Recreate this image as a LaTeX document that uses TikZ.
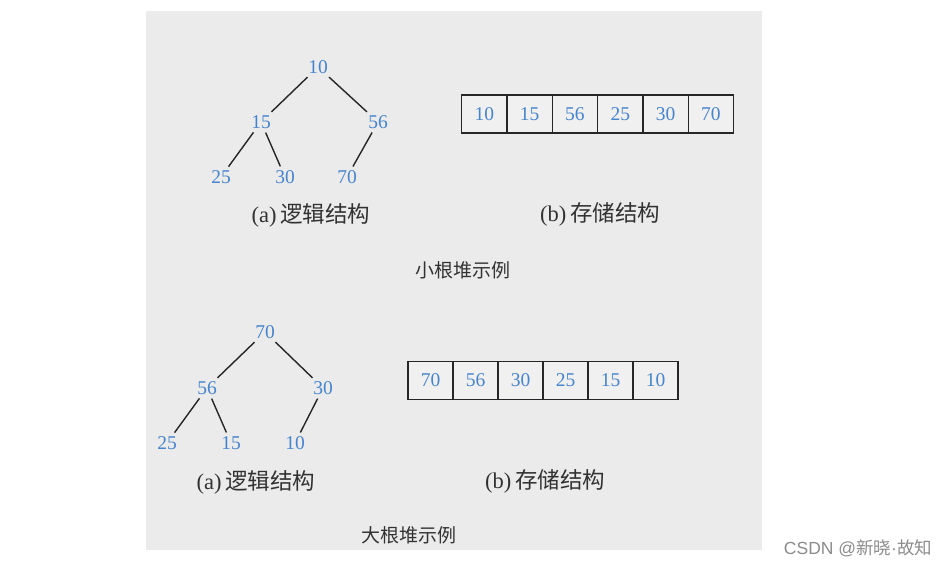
\documentclass[tikz,border=0pt]{standalone}
\usepackage{fontspec}
\setmainfont{Liberation Serif}
\newfontfamily\cjk{Noto Sans CJK SC}
\newfontfamily\wmsans{Liberation Sans}
\definecolor{numblue}{RGB}{70,132,205}
\definecolor{bggray}{RGB}{235,235,235}
\definecolor{cellgray}{RGB}{240,240,240}
\definecolor{capgray}{RGB}{50,50,50}
\definecolor{wmgray}{RGB}{140,140,140}
\begin{document}
\begin{tikzpicture}[x=1pt,y=-1pt,
  num/.style={text=numblue, font=\fontsize{19.5}{19.5}\selectfont, inner sep=2pt},
  edge/.style={draw=black!85, line width=1.4pt, shorten <=2pt, shorten >=2pt},
  cell/.style={draw=black!85, line width=1.4pt, fill=cellgray, minimum width=45.3pt,
    minimum height=38pt, inner sep=0pt, text=numblue, font=\fontsize{19.5}{19.5}\selectfont},
  capt/.style={text=capgray, font=\fontsize{22.5}{22.5}\selectfont, inner sep=0pt},
  title/.style={text=capgray, font=\cjk\fontsize{19}{19}\selectfont, inner sep=0pt}]
\useasboundingbox (0,0) rectangle (952,566);
\fill[white] (0,0) rectangle (952,566);
\fill[bggray] (146,11) rectangle (762,550);

% ---- small-root heap: tree
\node[num] (a10) at (318,67) {10};
\node[num] (a15) at (261,122) {15};
\node[num] (a56) at (378,122) {56};
\node[num] (a25) at (221,177) {25};
\node[num] (a30) at (285,177) {30};
\node[num] (a70) at (347,177) {70};
\draw[edge] (a10) -- (a15);
\draw[edge] (a10) -- (a56);
\draw[edge] (a15) -- (a25);
\draw[edge] (a15) -- (a30);
\draw[edge] (a56) -- (a70);
\node[capt] (capA1) at (311,215) {(a)\,{\cjk 逻辑结构}};

% ---- small-root heap: array
\foreach \v [count=\i from 0] in {10,15,56,25,30,70}
  \node[cell] (ca\i) at ({461.7+45.3*(\i+0.5)},114) {\v};
\node[capt] (capB1) at (600,214) {(b)\,{\cjk 存储结构}};
\node[title] (t1) at (463,270) {小根堆示例};

% ---- big-root heap: tree
\node[num] (b70) at (265,332) {70};
\node[num] (b56) at (207,388) {56};
\node[num] (b30) at (323,388) {30};
\node[num] (b25) at (167,443) {25};
\node[num] (b15) at (231,443) {15};
\node[num] (b10) at (295,443) {10};
\draw[edge] (b70) -- (b56);
\draw[edge] (b70) -- (b30);
\draw[edge] (b56) -- (b25);
\draw[edge] (b56) -- (b15);
\draw[edge] (b30) -- (b10);
\node[capt] (capA2) at (256,482) {(a)\,{\cjk 逻辑结构}};

% ---- big-root heap: array
\foreach \v [count=\i from 0] in {70,56,30,25,15,10}
  \node[cell] (cb\i) at ({408+45*(\i+0.5)},380.5) {\v};
\node[capt] (capB2) at (545,481) {(b)\,{\cjk 存储结构}};
\node[title] (t2) at (409,535) {大根堆示例};

% ---- watermark
\node[text=wmgray, font=\fontsize{17.5}{17.5}\selectfont, inner sep=0pt] (wm) at (858,548) {\wmsans CSDN @\cjk 新晓{\wmsans ·}故知};
\end{tikzpicture}
\end{document}
